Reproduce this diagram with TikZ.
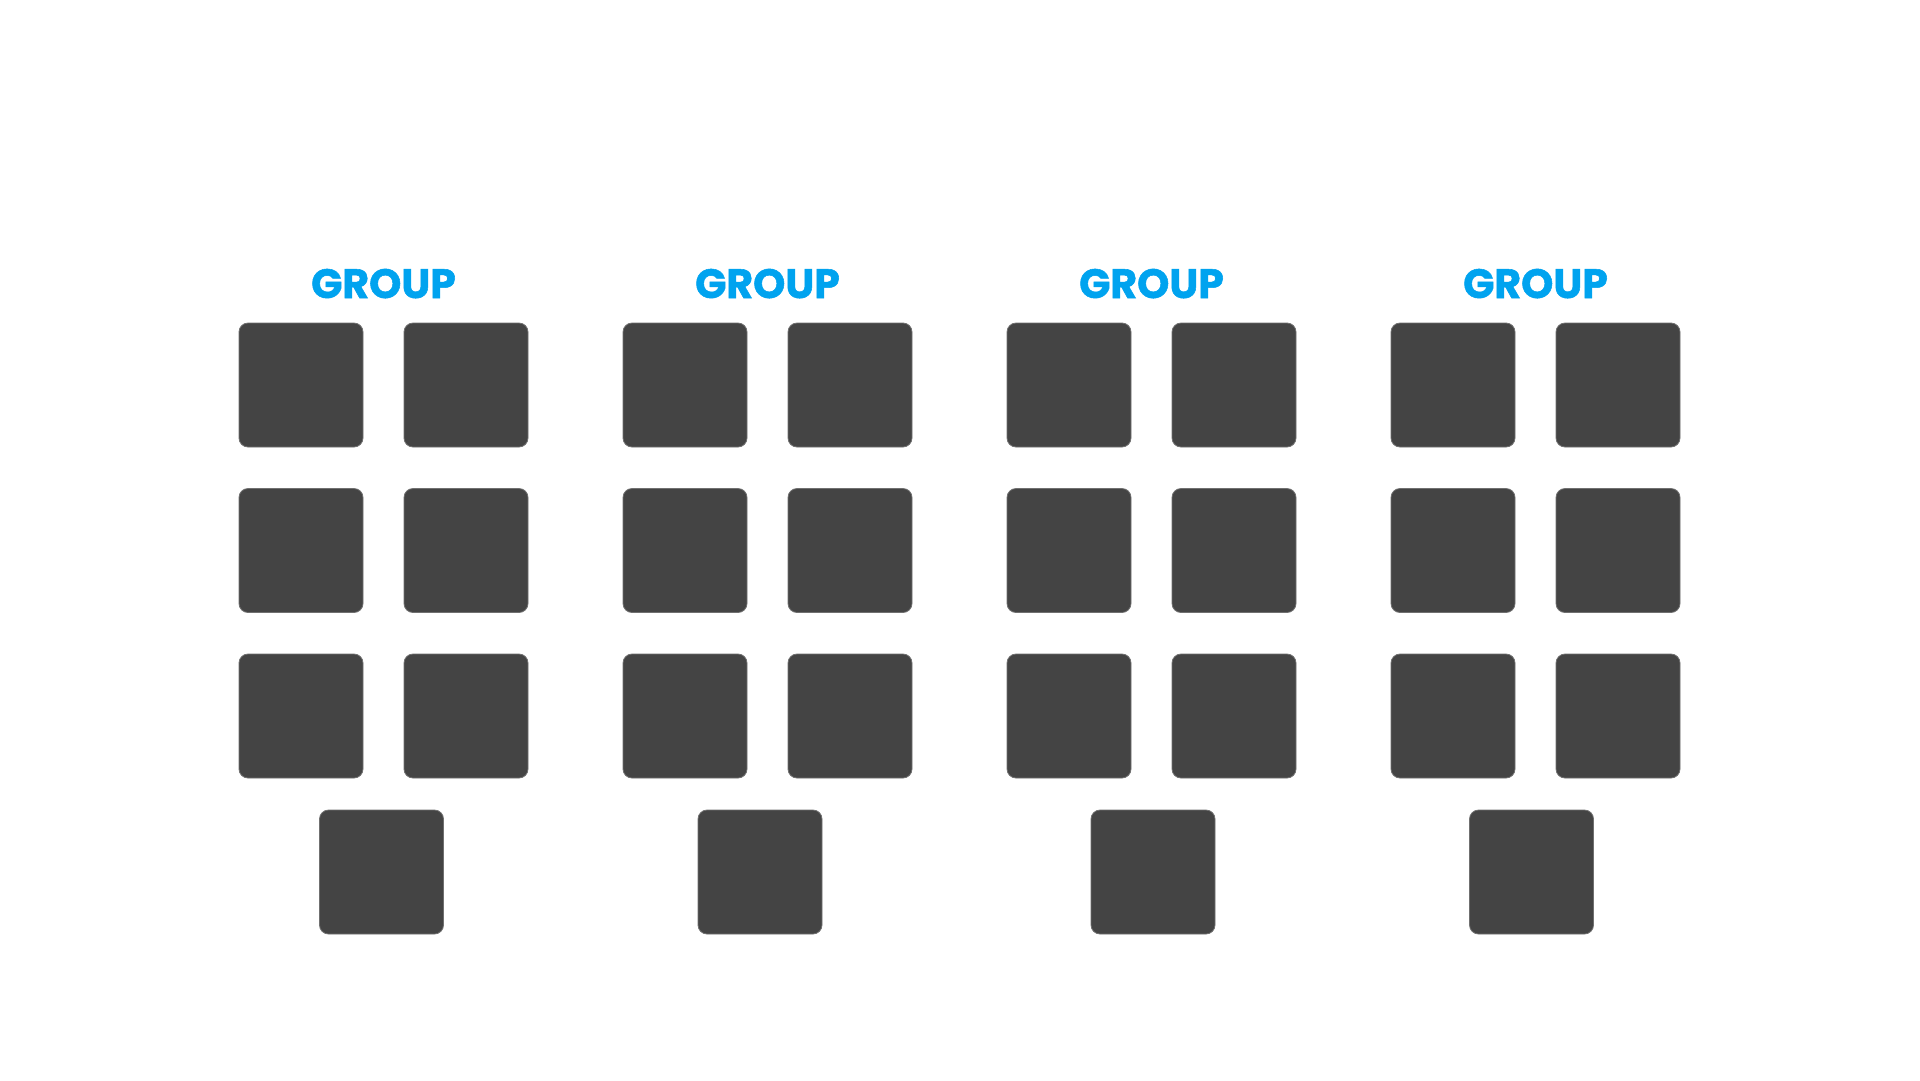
\documentclass[tikz,border=0pt]{standalone}
\usepackage{fontspec}
\newfontfamily\titlefont{Poppins}[BoldFeatures={FakeBold=1.3}]
\definecolor{grpblue}{HTML}{00A3EF}
\definecolor{boxgray}{HTML}{444444}
\definecolor{edgegray}{HTML}{707070}
\begin{document}
\begin{tikzpicture}[x=1pt,y=-1pt,
  box/.style={draw=edgegray, line width=0.8pt, fill=boxgray, rounded corners=9pt,
    minimum width=124pt, minimum height=124pt, inner sep=0pt, outer sep=0pt, anchor=north west},
  grouptitle/.style={font=\titlefont\bfseries\fontsize{41}{41}\selectfont, text=grpblue, anchor=base, inner sep=0pt}]
\fill[white] (0,0) rectangle (1920,1080);
\useasboundingbox (0,0) rectangle (1920,1080);
\foreach \g/\gx/\bx in {1/239/319.5, 2/623/698, 3/1007/1091, 4/1391/1469.5} {
  \node[grouptitle] (t\g) at (\gx+144.5,298) {GROUP};
  \node[box] (b\g a) at (\gx,323) {};
  \node[box] (b\g b) at (\gx+165,323) {};
  \node[box] (b\g c) at (\gx,488.5) {};
  \node[box] (b\g d) at (\gx+165,488.5) {};
  \node[box] (b\g e) at (\gx,654) {};
  \node[box] (b\g f) at (\gx+165,654) {};
  \node[box] (b\g g) at (\bx,810) {};
}
\end{tikzpicture}
\end{document}
